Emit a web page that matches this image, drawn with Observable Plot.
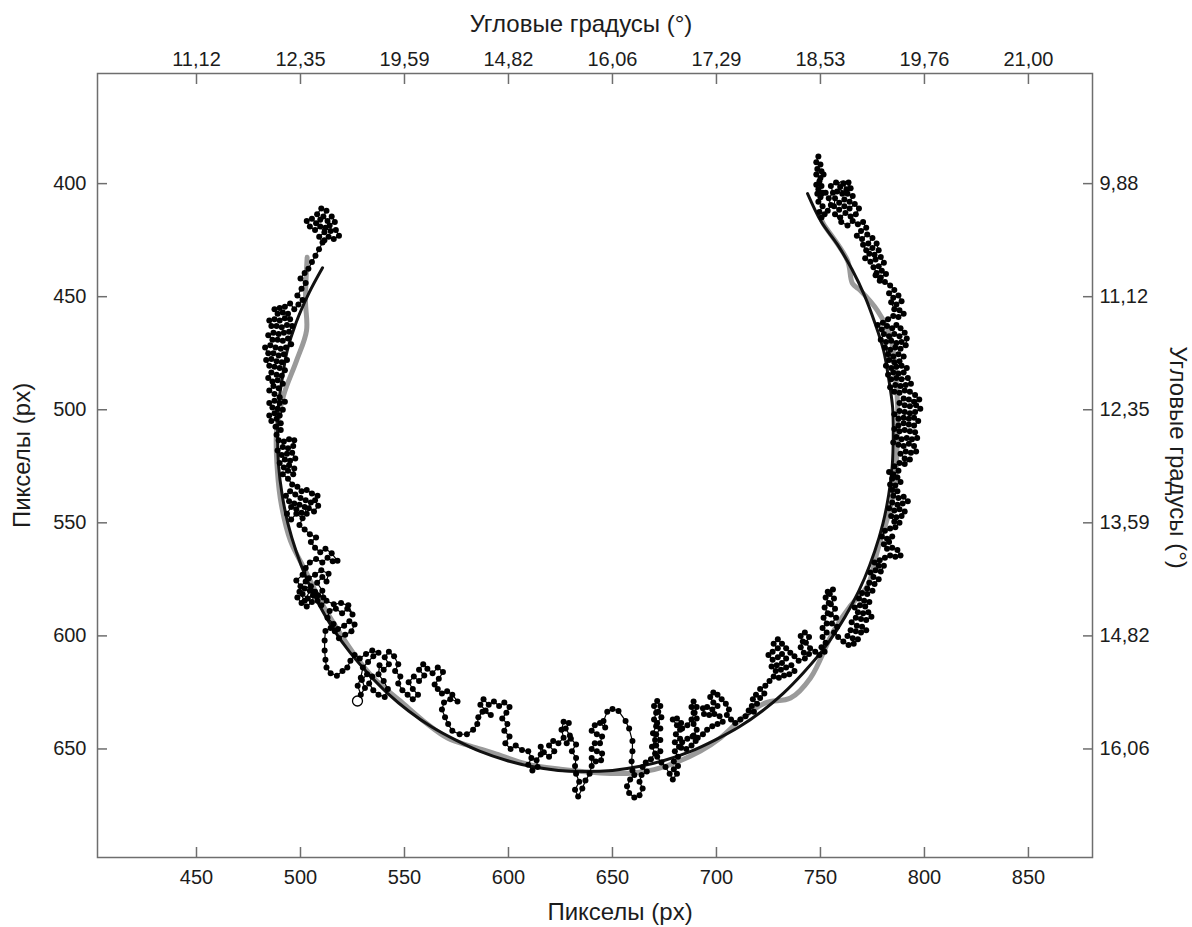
<!DOCTYPE html>
<html><head><meta charset="utf-8">
<script src="https://cdn.jsdelivr.net/npm/d3@7"></script>
<script src="https://cdn.jsdelivr.net/npm/@observablehq/plot@0.6"></script>
<style>html,body{margin:0;padding:0;background:#fff;} svg{display:block;}</style>
</head><body><div id="chart"></div>
<script>
const xTicks = [450, 500, 550, 600, 650, 700, 750, 800, 850];
const yTicks = [400, 450, 500, 550, 600, 650];
const topTickLabels = ["11,12", "12,35", "19,59", "14,82", "16,06", "17,29", "18,53", "19,76", "21,00"];
const rightTickLabels = ["9,88", "11,12", "12,35", "13,59", "14,82", "16,06"];
const xTitle = "Пикселы (px)";
const yTitle = "Пикселы (px)";
const topTitle = "Угловые градусы (°)";
const rightTitle = "Угловые градусы (°)";

const trajectory = [
[749,388],[748,390.5],[750,391.5],[748.5,393.5],[750.5,394.5],[748,396],[750,397.5],[751.5,396],[749.5,399],[748,400.5],[750.5,401],[749,402.5],[751,404],[748.5,404.5],[750,406],[752.5,404],
[749,408],[751,410],[749.5,412.5],[752,413.5],[750.5,415],
[753.5,412],[755,409.5],[754,406.5],[756,404],[755,401],[757.5,399.5],[759.5,401.5],[758,403.5],[760.5,404.5],[762.5,402.5],[761,400],[763.5,399.5],[764.5,402],[763,404.5],[765.5,405.5],[764,408],[761.5,407],[759,408.5],[757,406.5],[756.5,410],[759,411.5],[761.5,410],[764,411],[766.5,409],[768.5,411],[767,413.5],[764.5,414.5],[762,413],[759.5,415],[757,413.5],[760,417],
[763,418.5],[765.5,416.5],[768,418],[770.5,417],[772,419.5],[769.5,421],[767.5,423],[770,424.5],[772.5,422.5],[775,424],[773,426.5],[770.5,427],[772,429.5],[775,428.5],[777,426.5],[778,429.5],[776,431.5],[773.5,431],[771.5,433],[774,434.5],[776.5,433.5],[779,432.5],[780.5,435],[778,436.5],[775.5,437],[777,439.5],[779.5,438.5],[781.5,440],[779,441.5],[776.5,440.5],[778.5,443],[781,443.5],
[783.5,445],[785.5,447],[783,448.5],[785,450.5],[787.5,449.5],[789,452],[786.5,453.5],[784,452.5],[785.5,455.5],[788,456],[790,457.5],[787.5,459],[785,458.5],[782.5,460],[780,461.5],[777.5,462.5],[779.5,464.5],[782,463],[784.5,464],[786.5,462.5],[788.5,464],[790.5,466],[788,467.5],[785.5,466.5],[783,467.5],[780.5,466.5],[779,469],[781.5,470],[784,469.5],[786.5,470.5],[789,470],[791.5,468.5],[791,471.5],[788.5,473],[786,472.5],[783.5,473.5],[781,472.5],
[782.5,475.5],[785,476.5],[787.5,475.5],[790,476.5],[788,478.5],[785.5,479],[783,478],[781.5,480.5],[784,481.5],[786.5,481],[789,480.5],[791.5,481.5],[790,483.5],[787.5,484],[785,483.5],[782.5,484.5],[784,486.5],[786.5,486],[789,486.5],[792,486],[793.5,488.5],[791,489],[788.5,489.5],[786,489],[783.5,490],[785.5,492],[788,492.5],[790.5,491.5],[793,492],[795.5,493.5],[797.5,495.5],[795,496.5],[792.5,495.5],[790,495],[788,497],[790.5,498],[793,498.5],[796,498],[798,499.5],
[795.5,501],[793,501.5],[790.5,501],[788,500.5],[785.5,502],[787.5,504],[790,503.5],[792.5,504],[795,503.5],[797,505],[795,507],[792.5,506.5],[790,506],[787.5,507],[785.5,508.5],[788,509.5],[790.5,509],[793,509.5],[795.5,510],[796.5,512.5],[794,513],[791.5,512.5],[789,513],[786.5,512],[785,514.5],[787.5,515.5],[790,516],[792.5,515],[795,516],[796,518.5],[793.5,519],[791,518.5],[788.5,519.5],[790.5,521.5],[793,522],
[790.5,524],[788,523.5],[785.5,525],[787.5,527],[785,528.5],[783,527.5],[784.5,530.5],[787,530],[788.5,532],[786,533.5],[783.5,533],[784.5,535.5],[787,536],[785,538],[787.5,539],[790,538.5],[792,540.5],[789.5,541.5],[787,542],[784.5,541],[783,543.5],[785.5,544.5],[788,544],[790.5,545],[789,547],[786.5,547.5],[784,547],[785.5,549.5],[788,550],[786,552],
[783.5,552.5],[781,553.5],[779.5,556],[782,557],[784.5,556],[783,558.5],[780.5,559.5],[782,561.5],[784.5,561],[787,562],[788.5,564.5],[786,565],[783.5,564.5],[781,565.5],[778.5,566.5],[776,567.5],[778,569],[780.5,569],[779,571.5],[776.5,571],[774,572],[775.5,574],[778,575],[776,577],[773.5,576.5],[772.5,579],[775,580],
[772.5,581.5],[770,581],[768.5,583.5],[771,584.5],[773.5,585],[771.5,587],[769,586.5],[766.5,587.5],[768,589.5],[770.5,590],[773,589.5],[774.5,591.5],[772,593],[769.5,592.5],[767,592],[765,594],[767.5,595.5],[770,596],[772,597.5],[769.5,598.5],[767,598],[764.5,597.5],[763,600],[765.5,601],[768,601.5],[766,603.5],[763.5,604],[761,602.5],
[758.5,600.5],[756.5,598.5],[758,596],[755.5,594.5],[757.5,592],[755,590.5],[757,588],[755,586],[756.5,583.5],[754.5,581.5],[756,579.5],[753.5,580.5],[752.5,583],[754,585.5],[752,587.5],[753.5,590],[751.5,592],[753,594.5],[751,596.5],[753,598.5],[751,600.5],[752.5,603],[750.5,605],[752,607],[749.5,608.5],
[747.5,607],[745,605.5],[743,603],[744.5,600.5],[742.5,598.5],[740.5,600],[741.5,602.5],[740.5,605],[742,607.5],[744.5,608],[742.5,610],
[739.5,611],[737.5,609],[735.5,607.5],[733.5,605.5],[731.5,603.5],[729.5,601.5],[727.5,603.5],[729.5,605.5],[727,607],[725,608.5],[727,610.5],[729.5,609.5],[731.5,608],[733.5,610],[731.5,612],[729,613],[726.5,613.5],[728.5,615.5],[731,615],[733.5,614],[736,613],[737.5,615.5],[735,617],[732.5,617.5],[730,618.5],[727.5,618],[725.5,620],
[723.5,622],[721,623.5],[723,625.5],[721,627.5],[719,626],[717.5,628],[719.5,630],[717,631],[715.5,633],[718,633.5],
[714,635.5],[711.5,637],[709,638.5],[707,637],[705,635],[706,632.5],[704.5,630],[702.5,628],[700.5,626],[698.5,625],[697,627],[698.5,629.5],[700.5,631],[698,632.5],[695.5,631.5],[693.5,632],[694,634.5],[696.5,635],[699,634.5],[701.5,635.5],[703,638],[700.5,639],[698,640],[695.5,641.5],
[693.5,643.5],[691,645],[688.5,644.5],[686,645.5],[683.5,647],[683,649.5],[685.5,650],[688,648.5],[690,646.5],[689,644],[690.5,641.5],[689,639],[690.5,636.5],[689,634],[690.5,631.5],[689,629],[688,631.5],[689.5,634],[688,637],
[686,639.5],[683.5,641],[681,639.5],[679,637],[681,636.5],[683,638.5],[682.5,641.5],[680.5,643.5],[682.5,645.5],[680,647],[682,649],[680,651],[681.5,653.5],[679.5,655.5],[681.5,657.5],[679.5,659],[681,661],[679,663.5],[677.5,661],
[675.5,658],[673.5,656],[671.5,653.5],[673,651],[671,648.5],[673,646],[671,643.5],[673,641],[671.5,638.5],[673.5,636],[672,633.5],[673,631],[671.5,628.8],[670,631],[671,634],[670,637],[671,640],[669.5,643],[670.5,646],[669,649],[670.5,652],[668.5,654.5],[666,656],[664.5,658],[666.5,660],[664,661.5],
[663,664.5],[664.5,667.5],[663,670.5],[660.5,671.5],[658,669.5],[657,666.5],[658.5,663.5],[660.5,661.5],
[659.6,659.5],[659.2,655.5],[659.6,651],[659.6,646.5],[658,641],[656.3,637.6],[652.9,633.2],[650,632.3],[647.5,633.5],[645.7,637.6],
[646.5,640.5],[644,638.5],[641.5,639.5],[640,642],[642.5,643.5],[645,644.5],[644,647.5],[641.5,647.5],[640,650],[642.5,651],[645,652],[644.5,655],[642,655.5],[640,654],[640,657.5],
[639,661],[637,664],[635.5,667.5],[633.5,671],[632,668],[634,664.5],[632.5,661],
[632,657.5],[632.5,654],[630.5,651],[632.5,648],[630,645.5],[628,647.5],[629.5,644],[627.5,641],[629,638.5],[626.5,638],[625.5,641.5],[626.5,645],[624,647.5],[621.5,646.5],[619.5,648.5],[622,651],[619.5,653.5],[617,651.5],[615.5,649],
[615.5,652.5],[613.5,655],[614,658],[611.5,659.5],[609.5,657],[611,654],[609.5,651],
[606.5,650.5],[603.5,648.5],[601,650],[598.5,647.5],[600.5,644.5],[598,642],[599.5,639],[597,636.5],[599,634],
[600.5,631.5],[598,629.5],[595.5,631],[593,629],[590.5,630.5],[588,628],[586.5,630.5],[589,633],[591.5,635],
[587.5,633.5],[585.5,636],[585,639],[583,641.5],[580,643.5],[576.5,643.5],[573,642],[571,639],[569.5,636],[568,632.5],[569,629.5],[572,628],[575.5,629],
[573,626],[570.5,624.5],[568,625.5],[566,623.5],[564.5,621.5],
[566.5,619],[568.5,616],[566,614],[563.5,616.5],[561,614.5],[559,612.5],[557,615],[559.5,617.5],[557,620],[554.5,618],[552,620.5],[554,623.5],[556.5,626],[554,628],[551.5,626],
[549,624],[547,621],[548,618],[545.5,615.5],[547,612.5],[545,609],[542.5,607],[540.5,609.5],[542.5,612.5],[540,615],[538,613],[537.5,617],[540,620],[542,623.5],[540.5,627],
[537.5,626],[535,624],[533,621],[534.5,618],[532,617],[529.5,619.5],[531,623],[529,626],
[527.5,622],[529,618.5],[530,614],[532.5,611.5],[535,609],[537.5,607.5],[534.5,606.5],[531.5,608],[528.5,610],[526,608.5],[524,611],[522.5,614],
[520.2,615.5],[517.5,617.6],[514.5,616.5],[512.5,614],[512,610.5],[511.6,606.5],[511.6,602],[512,597.8],[514.5,596.5],
[518,597],[521,595.5],[523.5,593.5],[526,595],[524.5,598],[521.5,599.5],[518.5,601],[516.5,598],[515.9,594.7],
[513,592],[514,589],[517,588],[520,590],[522.5,588],[525,590.5],[523,586.5],[519.5,585.5],[516,586],[512.5,584.5],[510,586.5],[508.2,584.5],[506,582],[503.5,583.5],[501,581.5],[498.5,583],[500.5,585.5],[503,587],[505.5,585],[507,580.5],[505,578],[502,579],[499.5,580.5],[502,584.5],[504.5,580],[508.5,582],[511,583],[510.5,580],
[508,576.5],[510.5,574],[512.5,576],[513.5,572.5],[510,571],[507,573],[504,574.5],[501,573],[498,575.5],[500,578],[502.5,576],
[502.5,570],[504.5,567.5],[507.5,566],[510.5,567.5],[513,565.5],[515.5,567],[517.8,566.8],[515,563.5],[512,561.5],[509.5,563],[507,561],[505,558.5],[507.5,556.5],[504.5,555],
[502,553],[499.5,551],[501,548],[498,546],[495.5,548.5],[493.5,546],[495.5,543],[498,544],[500.5,545.5],[503,546],[502,543],[499.5,542],[497,541.5],[494.5,540.5],[493,538],[495,536],[497.5,537.5],[500,539],[502.5,540],[505,541],[504,543.5],[506.5,545],[508.5,542.5],[507,540],[508.2,538],[505.5,537],[503,535.5],[500.5,536],[498.5,534],[496,533],
[494,530.5],[491.5,528.5],[494,527],[496.5,528.5],[497,526],[494.5,524.5],[492,525.5],[490,523.5],[492.5,522],[495,522.5],[497.5,521.5],[496,519],[493.5,519.5],[491,520],[489,518],[491.5,516.5],[494,517],[496.5,516],[497,513.5],[494.5,513],[492,514],[489.5,513.5],[488.5,511],
[490.5,509],[488,507.5],[490.5,506],[488.5,504],[486,505],[485,502.5],[487.5,501.5],[490,502.5],[491.5,500],[489,499.5],[486.5,499],[485,497],[487.5,496],[490,497],[492.5,496.5],[490,494.5],
[487.5,493],[485,491.5],[487,489.5],[489.5,490.5],[491.5,488.5],[489,487],[486.5,487.5],[484.5,486],[486,483.5],[488.5,484.5],[491,485],[492.5,482.5],[490,481.5],[487.5,481],[485,480.5],[483.5,478],[486,477.5],[488.5,478.5],[491,479],[493.5,478],[492,475.5],[489.5,476],[487,475],[484.5,475],[483,472.5],[485.5,471.5],[488,472.5],[490.5,473],[493,472.5],[495.5,471],[494,468.5],[491.5,469.5],[489,469],[486.5,469],[484.5,467],[487,466],[489.5,466.5],[492,466],[494.5,465.5],[496,463],[493.5,462.5],[491,463.5],[488.5,463],[486,463],[485,460.5],[487.5,460],[490,460.5],[492.5,459.5],[495,460],[494,457.5],[491.5,457],[489,457.5],[487.5,455.5],[490,455],
[492.5,454.5],[495,453],[497,455.5],[499,453.5],[501,451.5],[498.5,449.5],
[500.5,446.5],[502.5,444],[500,442],[502,439.5],
[503.8,437.6],[505.5,434.7],[507.2,431.9],[508.9,429],[510.6,426],
[509,423.5],[511.5,421.5],[509.5,419],[507,420.5],[504.5,419],[503,416.5],[505.5,415.5],[507.5,417.5],[509.5,416],[508,413.5],[510,411],[512.5,412],[511,414.5],[513,416.5],[515,414.5],[516.5,417],[514,418.5],[512,419.5],[514.5,421],[517,420.5],[518.5,423],[516,424.5],[513.5,423.5],[511.5,425]
];

const fitArc = [
[510.6,437.2],[504,448.5],[497.9,461.4],[493.6,474],[491.2,486.3],[489.3,499],[489,512],[489.5,525],[491.2,537.7],[494,550.5],[497.9,562.6],[502.8,574.5],[508.8,586],[515.8,597],[523.6,607.1],[532.4,616.5],[541.9,625.4],[552,633.2],[563,640.2],[574.5,646],[586.4,651.1],[598.8,655],[611.3,657.8],[624,659.5],[637,660],[650,659.5],[662.7,657.8],[675.2,655],[687.6,651.1],[699.5,646],[711,640.2],[722,633.2],[732.1,625.4],[741.6,616.5],[750.4,607.1],[758.2,597],[765.2,586],[771.2,574.5],[776.1,562.6],[780,550.5],[782.8,537.7],[784.5,525],[785,512],[784.7,499],[782.8,486.3],[780.4,474],[776.1,461.4],[771.2,449.5],[765.2,438],[758.2,427],[750.4,416.9],[743.8,404.4]
];

const grayCurve = [
[503.2,432.6],[502.4,451.8],[502.9,465],[498.1,478.3],[491.8,493.8],[488.5,509.3],[488.9,527],[490.9,542.5],[495.2,558],[502.4,571.3],[509.6,584.5],[518.3,597.8],[526.4,608.9],[535.1,618.6],[548,628.8],[561,639],[570.7,645.2],[581.7,648.7],[592.8,651.8],[609.1,656.7],[625,659],[644.2,660.6],[660.1,660.6],[673,658.4],[692.3,650.9],[702,645],[712.5,636.3],[723.6,629.6],[735.6,627.5],[745.2,618.6],[756.3,597.8],[764.4,586.7],[772.6,577.9],[777.4,562.4],[785.1,537.2],[787,510.6],[787,496],[783.7,468.1],[777.4,456.2],[769.2,447.3],[765.4,444.2],[763,434],[751.4,417.7],[750,415]
];

const markers = [[761,401],[527.4,628.8]];

const font = "'Liberation Sans', Arial, sans-serif";
const frameColor = "#6e6e6e";
const X = d => d[0], Y = d => d[1];

const chart = Plot.plot({
  width: 1192,
  height: 927,
  marginLeft: 97,
  marginRight: 100,
  marginTop: 73,
  marginBottom: 70,
  style: {fontFamily: font, fontSize: "20px", color: "#1c1c1c", background: "#fff"},
  x: {domain: [402.4, 880.8]},
  y: {domain: [351.3, 698], reverse: true},
  marks: [
    Plot.line(grayCurve, {x: X, y: Y, stroke: "#9a9a9a", strokeWidth: 5, curve: "catmull-rom"}),
    Plot.line(fitArc, {x: X, y: Y, stroke: "#111", strokeWidth: 3, curve: "catmull-rom"}),
    Plot.line(trajectory, {x: X, y: Y, stroke: "#000", strokeWidth: 1.2}),
    Plot.dot(trajectory, {x: X, y: Y, r: 3, fill: "#000"}),
    Plot.dot(markers, {x: X, y: Y, r: 5, stroke: "#000", strokeWidth: 1.3, fill: "none"}),
    Plot.frame({stroke: frameColor, strokeWidth: 1.5}),
    Plot.axisX(xTicks, {anchor: "bottom", tickSize: 10, dy: -10, tickFormat: () => "", label: null, stroke: frameColor, strokeWidth: 1.5}),
    Plot.axisX(xTicks, {anchor: "top", tickSize: 10, dy: 10, tickFormat: () => "", label: null, stroke: frameColor, strokeWidth: 1.5}),
    Plot.axisY(yTicks, {anchor: "left", tickSize: 10, dx: 10, tickFormat: () => "", label: null, stroke: frameColor, strokeWidth: 1.5}),
    Plot.axisY(yTicks, {anchor: "right", tickSize: 10, dx: -10, tickFormat: () => "", label: null, stroke: frameColor, strokeWidth: 1.5}),
    Plot.axisX(xTicks, {anchor: "bottom", tickSize: 0, tickPadding: 12, label: null, fontSize: 20}),
    Plot.axisX(xTicks, {anchor: "top", tickSize: 0, tickPadding: 8, label: null, fontSize: 20, tickFormat: d => topTickLabels[xTicks.indexOf(d)]}),
    Plot.axisY(yTicks, {anchor: "left", tickSize: 0, tickPadding: 11, label: null, fontSize: 20}),
    Plot.axisY(yTicks, {anchor: "right", tickSize: 0, tickPadding: 7, label: null, fontSize: 20, tickFormat: d => rightTickLabels[yTicks.indexOf(d)]}),
    Plot.text([topTitle], {frameAnchor: "top", dy: -49, dx: -14, fontSize: 24, textAnchor: "middle", lineAnchor: "middle"}),
    Plot.text([xTitle], {frameAnchor: "bottom", dy: 55, dx: 25, fontSize: 24, textAnchor: "middle", lineAnchor: "middle"}),
    Plot.text([yTitle], {frameAnchor: "left", dx: -75, dy: -10, rotate: -90, fontSize: 24, textAnchor: "middle", lineAnchor: "middle"}),
    Plot.text([rightTitle], {frameAnchor: "right", dx: 85, dy: -8, rotate: 90, fontSize: 24, textAnchor: "middle", lineAnchor: "middle"})
  ]
});
document.getElementById("chart").appendChild(chart);
</script>
</body></html>
